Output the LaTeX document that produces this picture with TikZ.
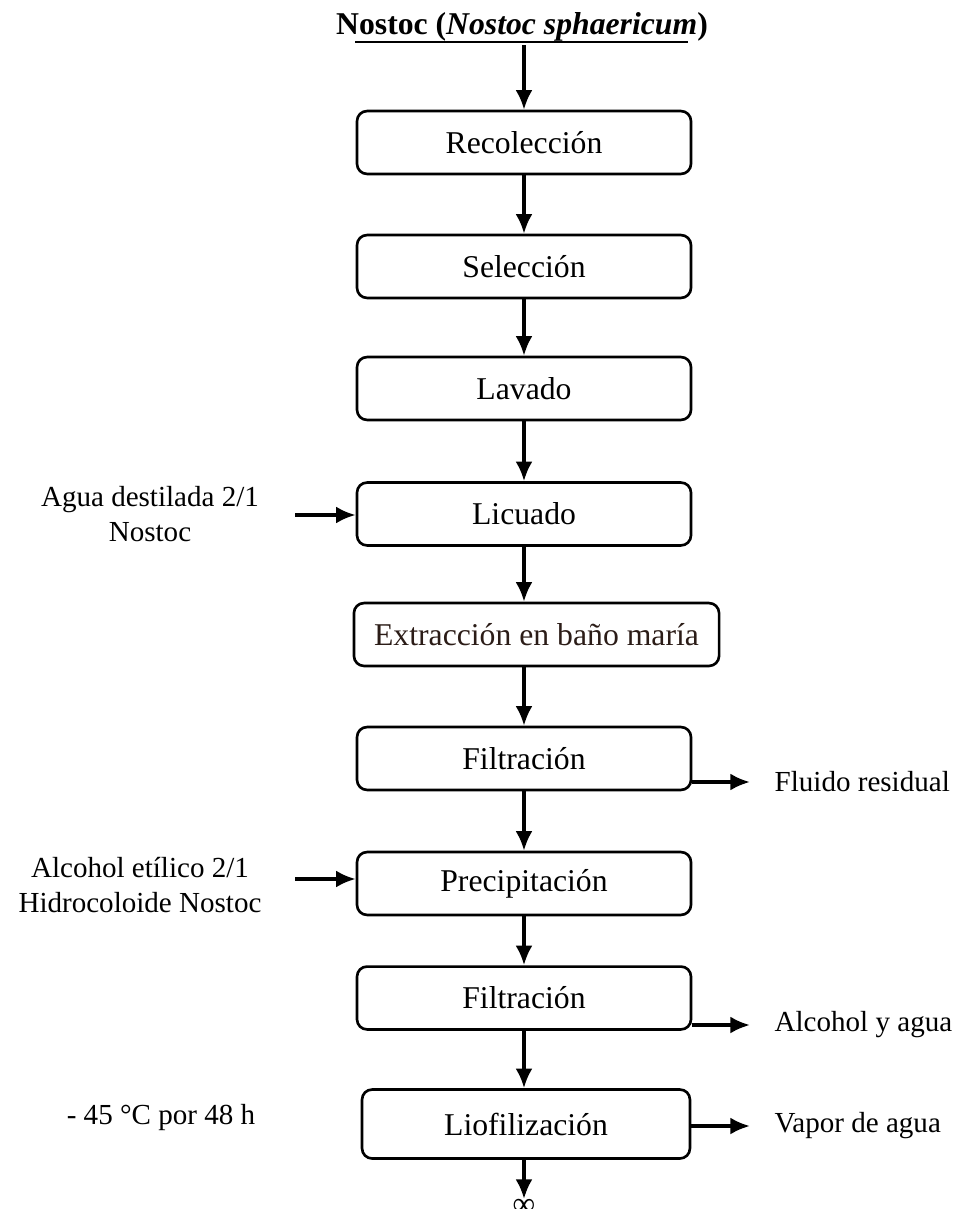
\documentclass[tikz,border=0pt]{standalone}
\usepackage{fontspec}
\setmainfont{Liberation Serif}
\usetikzlibrary{arrows.meta,positioning}
\definecolor{extbrown}{rgb}{0.17,0.11,0.09}

\begin{document}
\begin{tikzpicture}[x=0.3785pt,y=-0.3785pt,
    procbox/.style={draw,line width=1pt,rounded corners=3.8pt,minimum width=126.4pt,minimum height=23.8pt,font=\fontsize{12}{14}\selectfont},
    flow/.style={line width=1.3pt,-{Latex[length=7.4pt,width=6.4pt]}},
    lbl/.style={font=\fontsize{11}{13.2}\selectfont,align=center}]
    \useasboundingbox (0,0) rectangle (956,1209);
    % title
    \node[font=\bfseries\fontsize{12}{14}\selectfont] (title) at (522,27) {Nostoc (\textit{Nostoc sphaericum})};
    \coordinate (ulL) at (355,42);
    \coordinate (ulR) at (688,42);
    \draw[line width=1.1pt] (ulL) -- (ulR);
    % process steps
    \foreach \nm/\txt/\y in {rec/Recolección/142.5, sel/Selección/266.5, lav/Lavado/388.5, lic/Licuado/514, filA/Filtración/758.5, prec/Precipitación/883.5, filB/Filtración/998}
        \node[procbox] (\nm) at (524,\y) {\txt};
    \node[procbox,minimum width=138.2pt,text=extbrown] (ext) at (536.5,634.5) {Extracción en baño maría};
    \node[procbox,minimum width=124.1pt,minimum height=26.1pt] (lio) at (526,1124) {Liofilización};
    \node[inner sep=0pt,anchor=north,font=\fontsize{12}{14}\selectfont] (inf) at (524,1199) {∞};
    % main flow
    \draw[flow] (rec.north |- ulL) ++(0,3) -- (rec.north);
    \foreach \a/\b in {rec/sel, sel/lav, lav/lic, filA/prec, prec/filB}
        \draw[flow] (\a.south) -- (\b.north);
    \draw[flow] (lic.south) -- (lic.south |- ext.north);
    \draw[flow] (lic.south |- ext.south) -- (filA.north);
    \draw[flow] (filB.south) -- (filB.south |- lio.north);
    \draw[flow] (lio.south -| inf.north) -- (inf.north);
    % inputs
    \node[lbl] (agua) at (150,514) {Agua destilada 2/1\\Nostoc};
    \coordinate (aguaIn) at (295,515);
    \draw[flow] (aguaIn) -- (lic.west |- aguaIn);
    \node[lbl] (alcohol) at (140,885) {Alcohol etílico 2/1\\Hidrocoloide Nostoc};
    \coordinate (alcIn) at (295,879);
    \draw[flow] (alcIn) -- (prec.west |- alcIn);
    \node[lbl] (temp) at (161,1117) {- 45 °C por 48 h};
    % outputs
    \coordinate (outA) at (750,782);
    \coordinate (outB) at (750,1025);
    \coordinate (outC) at (750,1126);
    \draw[flow] (filA.east |- outA) -- (outA);
    \draw[flow] (filB.east |- outB) -- (outB);
    \draw[flow] (lio.east |- outC) -- (outC);
    \node[lbl,right=5.8pt of outA] (fluido) {Fluido residual};
    \node[lbl,right=5.8pt of outB] (alcagua) {Alcohol y agua};
    \node[lbl,right=5.8pt of outC] (vapor) {Vapor de agua};
\end{tikzpicture}
\end{document}
